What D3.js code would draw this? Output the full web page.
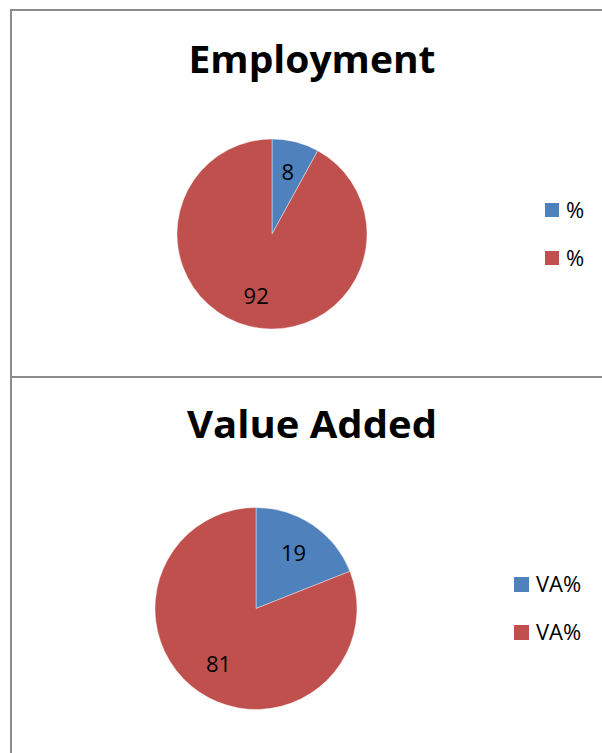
<!DOCTYPE html>
<html><head><meta charset="utf-8">
<script src="https://cdn.jsdelivr.net/npm/d3@7"></script>
<style>html,body{margin:0;padding:0;background:#fff;}svg{display:block;}</style>
</head><body>
<script>
const titles = ["Employment", "Value Added"];
const employmentValues = [8, 92];
const valueAddedValues = [19, 81];
const employmentLegend = ["%", "%"];
const valueAddedLegend = ["VA%", "VA%"];
const colors = ["#4F81BD", "#C0504D"];

const W = 602, H = 753;
const svg = d3.select("body").append("svg").attr("width", W).attr("height", H);
svg.append("rect").attr("width", W).attr("height", H).attr("fill", "#fff");

const font = "'Open Sans', 'Liberation Sans', sans-serif";

const panels = [
  {title: titles[0], values: employmentValues, legend: employmentLegend,
   titleX: 312, titleY: 73, titleW: 247, cx: 272, cy: 234, r: 95, lr: 0.67,
   legX: 545, legY: [203, 251], sq: 14},
  {title: titles[1], values: valueAddedValues, legend: valueAddedLegend,
   titleX: 312, titleY: 438, titleW: 250, cx: 256, cy: 608.5, r: 101, lr: 0.66,
   legX: 514, legY: [577, 625], sq: 15}
];

// borders
const border = svg.append("g").attr("stroke", "#8c8c8c").attr("stroke-width", 2).attr("fill", "none");
border.append("line").attr("x1", 11).attr("x2", W).attr("y1", 10).attr("y2", 10);
border.append("line").attr("x1", 11).attr("x2", 11).attr("y1", 9).attr("y2", H);
border.append("line").attr("x1", 11).attr("x2", W).attr("y1", 377).attr("y2", 377);

const pie = d3.pie().sort(null).value(d => d);

panels.forEach(p => {
  const g = svg.append("g");
  g.append("text").attr("x", p.titleX).attr("y", p.titleY)
    .attr("text-anchor", "middle").attr("font-family", font).attr("font-weight", "bold")
    .attr("font-size", 38).attr("textLength", p.titleW).attr("lengthAdjust", "spacingAndGlyphs")
    .attr("fill", "#000").text(p.title);

  const arc = d3.arc().innerRadius(0).outerRadius(p.r);
  const labelArc = d3.arc().innerRadius(p.r * p.lr).outerRadius(p.r * p.lr);
  const pg = g.append("g").attr("transform", `translate(${p.cx},${p.cy})`);
  const arcs = pie(p.values);
  pg.selectAll("path").data(arcs).join("path")
    .attr("d", arc).attr("fill", (d, i) => colors[i])
    .attr("stroke", "#fff").attr("stroke-width", 0.4);
  pg.selectAll("text").data(arcs).join("text")
    .attr("transform", d => `translate(${labelArc.centroid(d)})`)
    .attr("text-anchor", "middle").attr("dy", "0.36em")
    .attr("font-family", font).attr("font-size", 22).attr("fill", "#000")
    .text(d => d.data);

  p.legend.forEach((t, i) => {
    g.append("rect").attr("x", p.legX).attr("y", p.legY[i])
      .attr("width", p.sq).attr("height", p.sq).attr("fill", colors[i]);
    g.append("text").attr("x", p.legX + p.sq + 7).attr("y", p.legY[i] + p.sq / 2)
      .attr("dy", "0.36em").attr("font-family", font).attr("font-size", 22)
      .attr("fill", "#000").text(t);
  });
});
</script>
</body></html>
